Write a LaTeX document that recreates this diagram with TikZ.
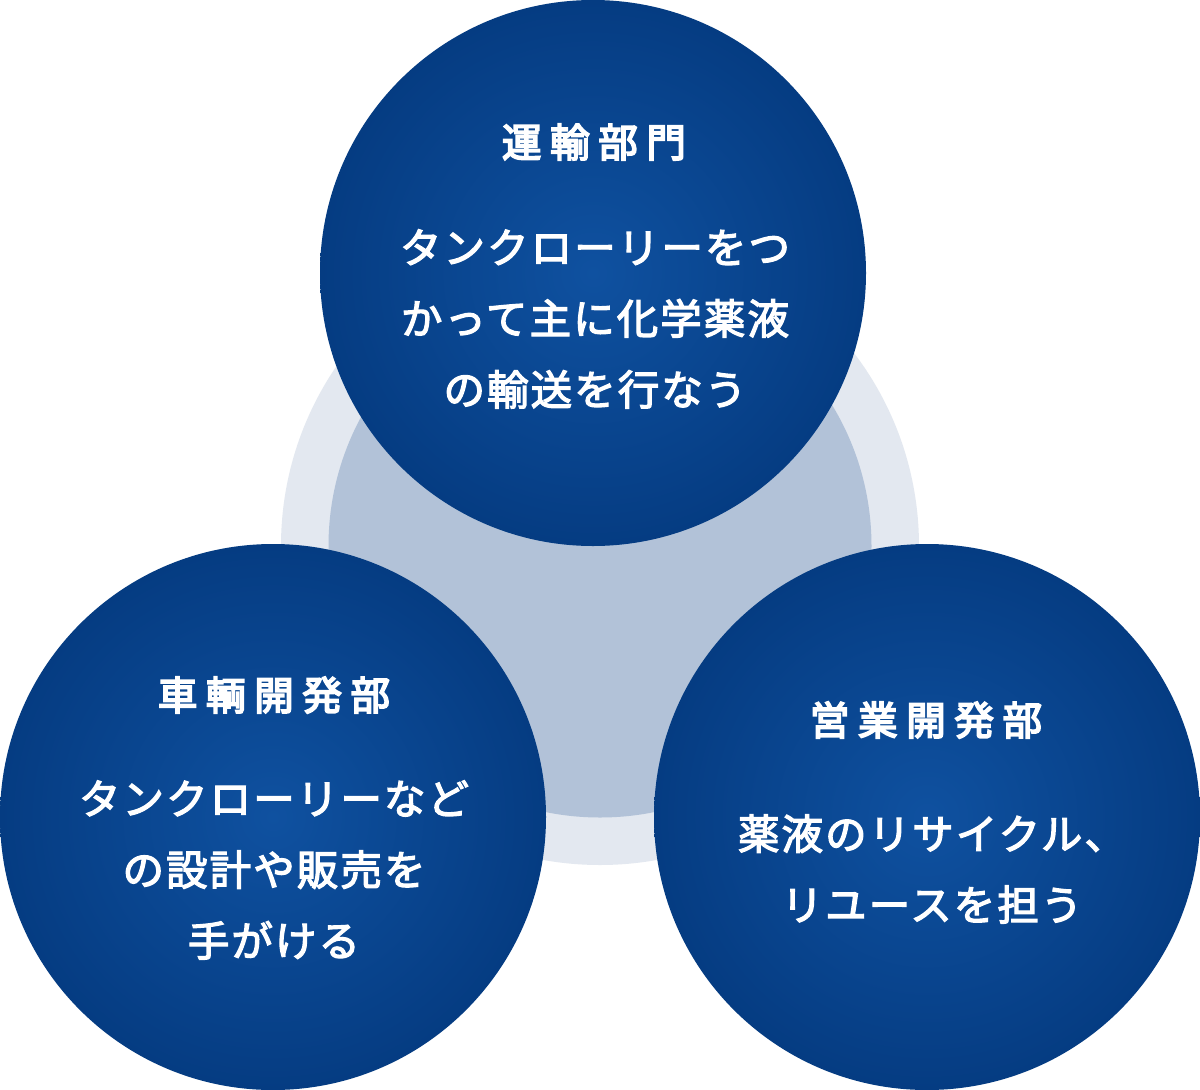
\documentclass[tikz,border=0pt]{standalone}
\usepackage{fontspec}
\setmainfont{Noto Sans CJK JP}
\newfontfamily\jpbody[FakeBold=3]{Noto Sans CJK JP}
\newfontfamily\jphead[FakeBold=4.5]{Noto Sans CJK JP}
\definecolor{ringout}{HTML}{E3E8F0}
\definecolor{ringin}{HTML}{B2C2D8}
\definecolor{discin}{HTML}{0F51A0}
\definecolor{discout}{HTML}{053C82}
\tikzset{
  disc/.style={circle, minimum size=546pt, inner sep=0pt, shading=radial, inner color=discin, outer color=discout},
  headtext/.style={text=white, inner sep=0pt, font=\jphead\fontsize{39.5}{46}\selectfont\addfontfeatures{LetterSpace=22}},
  bodytext/.style={text=white, inner sep=0pt, align=center, font=\jpbody\fontsize{41.5}{71}\selectfont\addfontfeatures{LetterSpace=5}},
}
\begin{document}
\begin{tikzpicture}[x=1pt,y=-1pt]
\useasboundingbox (0,0) rectangle (1200,1090);
\fill[white] (0,0) rectangle (1200,1090);
% background rings
\node[circle, fill=ringout, minimum size=638pt, inner sep=0pt] (ringA) at (600,546) {};
\node[circle, fill=ringin, minimum size=543pt, inner sep=0pt] (ringB) at (600,546) {};
% discs
\node[disc] (top) at (593,273) {};
\node[disc] (left) at (273,817) {};
\node[disc] (right) at (927,817) {};
% texts
\node[headtext] (th) at (594,142) {運輸部門};
\node[bodytext] (tb) at (595,319) {タンクローリーをつ\\かって主に化学薬液\\の輸送を行なう};
\node[headtext] (lh) at (274,695) {車輌開発部};
\node[bodytext] (lb) at (274,870) {タンクローリーなど\\の設計や販売を\\手がける};
\node[headtext] (rh) at (926,720) {営業開発部};
\node[bodytext] (rb) at (932,869) {薬液のリサイクル、\\リユースを担う};
\end{tikzpicture}
\end{document}
